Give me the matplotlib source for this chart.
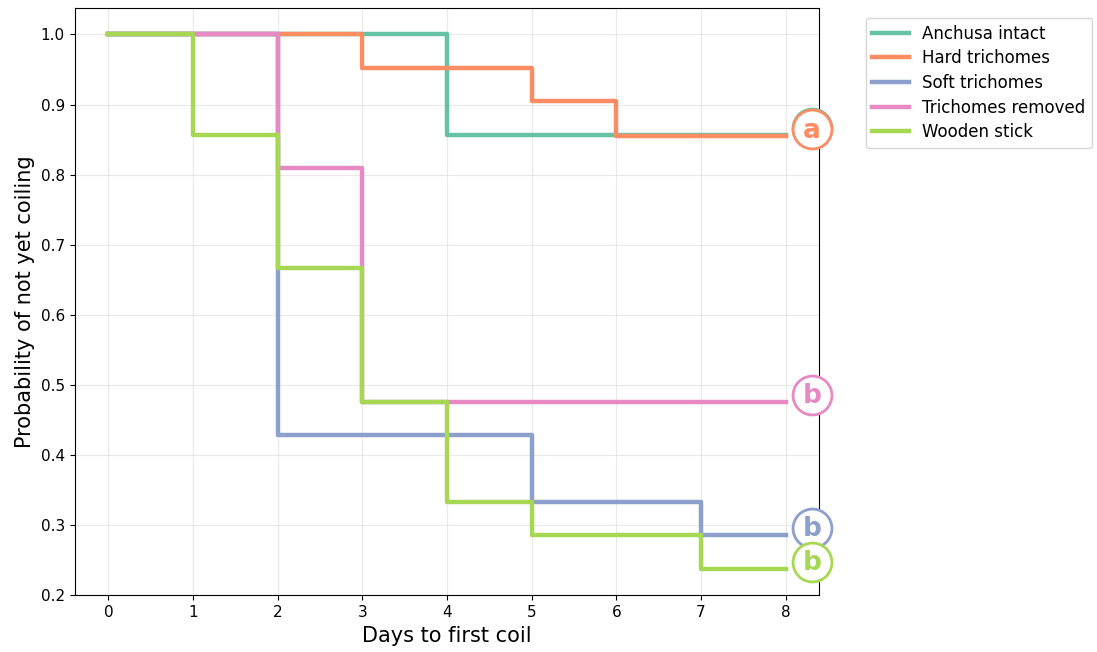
import matplotlib
matplotlib.use('Agg')
import matplotlib.pyplot as plt
import numpy as np

# Kaplan-Meier style curves
groups = ['Anchusa intact', 'Hard trichomes', 'Soft trichomes', 'Trichomes removed', 'Wooden stick']
colors = ['#66c2a5', '#fc8d62', '#8da0cb', '#e78ac3', '#a6d854']

days_intact = [0, 4, 8]
surv_intact = [1.0, 0.857, 0.857]

days_hard = [0, 3, 5, 6, 8]
surv_hard = [1.0, 0.952, 0.905, 0.855, 0.855]

days_soft = [0, 2, 5, 7, 8]
surv_soft = [1.0, 0.429, 0.333, 0.286, 0.286]

days_removed = [0, 2, 3, 8]
surv_removed = [1.0, 0.810, 0.476, 0.476]

days_stick = [0, 1, 2, 3, 4, 5, 7, 8]
surv_stick = [1.0, 0.857, 0.667, 0.476, 0.333, 0.286, 0.238, 0.238]

letters = ['a', 'a', 'b', 'b', 'b']

all_days = [days_intact, days_hard, days_soft, days_removed, days_stick]
all_surv = [surv_intact, surv_hard, surv_soft, surv_removed, surv_stick]

fig = plt.figure(figsize=(10.97, 6.52), dpi=100)
fig.subplots_adjust(left=0.068, right=0.747, top=0.988, bottom=0.087)
ax = fig.add_subplot(1, 1, 1)

for k in range(len(groups)):
    ax.step(all_days[k], all_surv[k], where='post', color=colors[k], linewidth=3.2, label=groups[k])

# significance letters at the end of each curve (later groups on top)
for k in range(len(groups)):
    yy = all_surv[k][-1] + 0.01
    ax.plot(8.31, yy, 'o', markersize=28, markerfacecolor='white', markeredgecolor=colors[k],
            markeredgewidth=2, clip_on=False, zorder=5 + 2 * k)
    ax.text(8.31, yy - 0.002, letters[k], color=colors[k], fontsize=19, fontweight='bold',
            ha='center', va='center', clip_on=False, zorder=6 + 2 * k)

ax.set_xlim(-0.4, 8.4)
ax.set_ylim(0.2, 1.038)
ax.set_xticks(np.arange(0, 9, 1))
ax.set_yticks(np.arange(0.2, 1.01, 0.1))
ax.tick_params(labelsize=11)
ax.grid(True, color='#e0e0e0', linewidth=0.8, alpha=0.7)
ax.set_axisbelow(True)
ax.set_xlabel('Days to first coil', fontsize=15)
ax.set_ylabel('Probability of not yet coiling', fontsize=15)

ax.legend(loc='upper left', bbox_to_anchor=(1.051, 0.997), fontsize=12, frameon=True,
          handlelength=2.2, borderaxespad=0.5, labelspacing=0.4)

plt.savefig('out.png', dpi=100)
